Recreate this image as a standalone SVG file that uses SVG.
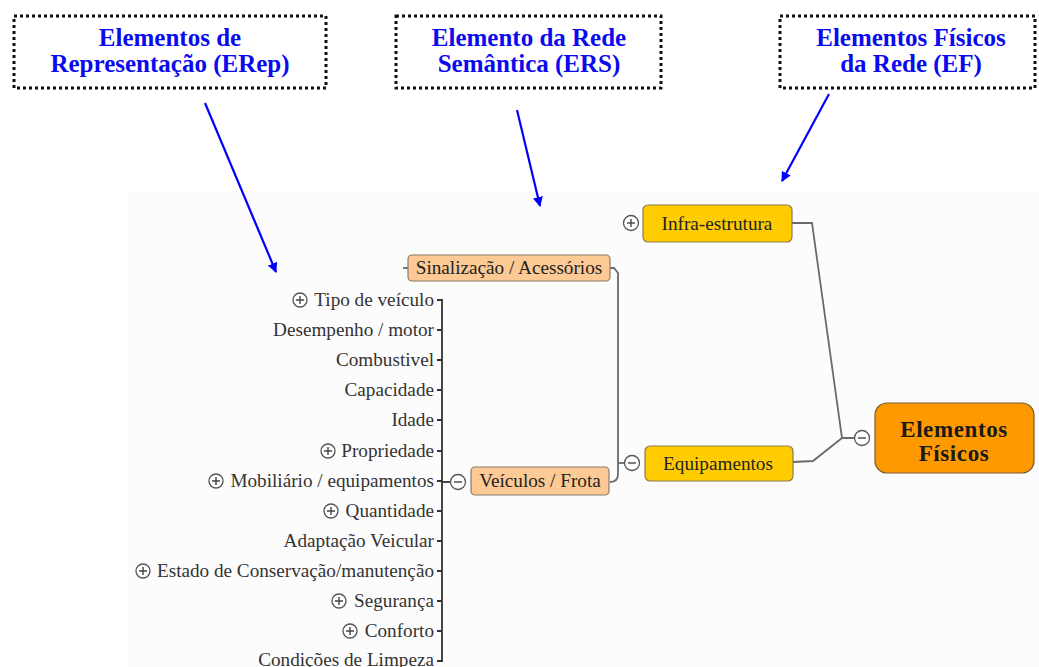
<svg xmlns="http://www.w3.org/2000/svg" width="1039" height="667" viewBox="0 0 1039 667">
<defs>
<marker id="ah" markerWidth="10" markerHeight="10" refX="9" refY="5" orient="auto" markerUnits="userSpaceOnUse" viewBox="0 0 10 10">
<path d="M0,0 L10,5 L0,10 z" fill="#0000ff"/>
</marker>
<style>
.dbox{fill:none;stroke:#111;stroke-width:3;stroke-dasharray:3 3}
.htxt{font-family:"Liberation Serif",serif;font-weight:bold;font-size:25px;fill:#0a0af0;text-anchor:middle}
.arrow{stroke:#0000ff;stroke-width:2.2;fill:none}
.lbl{font-family:"Liberation Serif",serif;font-size:19.2px;fill:#333;text-anchor:end}
.ntxt{font-family:"Liberation Serif",serif;font-size:19.2px;fill:#222;text-anchor:middle}
.peach{fill:#fdca96;stroke:#8a7a6a;stroke-width:1.2}
.yel{fill:#ffcc00;stroke:#8a7a50;stroke-width:1.2}
.org{fill:#ff9900;stroke:#7a5a30;stroke-width:1.2}
.conn{fill:none;stroke:#6a6a6a;stroke-width:1.8}
.br{fill:none;stroke:#333;stroke-width:1.8}
.tog{fill:#fff;stroke:#555;stroke-width:1.3}
.sym{stroke:#444;stroke-width:1.4}
</style>
</defs>
<rect x="0" y="0" width="1039" height="667" fill="#ffffff"/>
<rect x="128" y="192" width="911" height="475" fill="#fcfcfc"/>

<g id="label-erep">
<rect class="dbox" x="14" y="16" width="312" height="72"/>
<text class="htxt" x="170" y="46">Elementos de</text>
<text class="htxt" x="170" y="72">Representação (ERep)</text>
</g>
<g id="label-ers">
<rect class="dbox" x="396" y="16" width="265" height="72"/>
<text class="htxt" x="529" y="46">Elemento da Rede</text>
<text class="htxt" x="529" y="72">Semântica (ERS)</text>
</g>
<g id="label-ef">
<rect class="dbox" x="780" y="16" width="255" height="72"/>
<text class="htxt" x="911" y="46">Elementos Físicos</text>
<text class="htxt" x="911" y="72">da Rede (EF)</text>
</g>

<g id="arrows">
<line class="arrow" x1="205" y1="103" x2="276" y2="272" marker-end="url(#ah)"/>
<line class="arrow" x1="517" y1="110" x2="540" y2="206" marker-end="url(#ah)"/>
<line class="arrow" x1="829" y1="94" x2="782" y2="181" marker-end="url(#ah)"/>
</g>

<g id="connectors">
<path class="conn" d="M855,438 L842,438 L812,223 L792,223"/>
<path class="conn" d="M842,438 L813,461 L793,462"/>
<path class="conn" d="M610,268 L614,268 L618,273 L618,474 Q618,482 610,482"/>
<path class="conn" d="M618,463 L625,463"/>
<path class="conn" d="M403,268 L408,268"/>
<path class="br" d="M450,482 L442,482"/>
<path class="br" d="M437,300 L442,300 L442,661 L437,661"/>
<path class="br" d="M437,330 H442 M437,360 H442 M437,390 H442 M437,420 H442 M437,451 H442 M437,481 H442 M437,511 H442 M437,541 H442 M437,571 H442 M437,601 H442 M437,631 H442"/>
</g>

<g id="node-elementos-fisicos">
<rect class="org" x="875" y="403" width="159" height="70" rx="12"/>
<text x="954" y="437" style="font-family:'Liberation Serif',serif;font-weight:bold;font-size:23px;fill:#1a1a1a;text-anchor:middle;letter-spacing:0.6px">Elementos</text>
<text x="954" y="461" style="font-family:'Liberation Serif',serif;font-weight:bold;font-size:23px;fill:#1a1a1a;text-anchor:middle;letter-spacing:0.6px">Físicos</text>
<circle class="tog" cx="862" cy="438" r="7.5"/>
<line class="sym" x1="858" y1="438" x2="866" y2="438"/>
</g>

<g id="node-infra">
<rect class="yel" x="643" y="205" width="149" height="37" rx="5"/>
<text class="ntxt" x="717" y="230">Infra-estrutura</text>
<circle class="tog" cx="631" cy="223" r="7.5"/>
<line class="sym" x1="627" y1="223" x2="635" y2="223"/>
<line class="sym" x1="631" y1="219" x2="631" y2="227"/>
</g>

<g id="node-equipamentos">
<rect class="yel" x="645" y="446" width="148" height="35" rx="5"/>
<text class="ntxt" x="718" y="470">Equipamentos</text>
<circle class="tog" cx="632" cy="463" r="7.5"/>
<line class="sym" x1="628" y1="463" x2="636" y2="463"/>
</g>

<g id="node-sinalizacao">
<rect class="peach" x="408" y="255" width="202" height="26" rx="4"/>
<text class="ntxt" x="509" y="274">Sinalização / Acessórios</text>
</g>

<g id="node-veiculos">
<rect class="peach" x="471" y="467" width="138" height="28" rx="4"/>
<text class="ntxt" x="540" y="487">Veículos / Frota</text>
<circle class="tog" cx="458" cy="482" r="7.5"/>
<line class="sym" x1="454" y1="482" x2="462" y2="482"/>
</g>

<g id="list-items">
<g id="item-tipo"><circle class="tog" cx="300" cy="300" r="7"/><path class="sym" d="M296,300 H304 M300,296 V304"/><text class="lbl" x="434" y="306">Tipo de veículo</text></g>
<g id="item-desempenho"><text class="lbl" x="434" y="336">Desempenho / motor</text></g>
<g id="item-combustivel"><text class="lbl" x="434" y="366">Combustivel</text></g>
<g id="item-capacidade"><text class="lbl" x="434" y="396">Capacidade</text></g>
<g id="item-idade"><text class="lbl" x="434" y="426">Idade</text></g>
<g id="item-propriedade"><circle class="tog" cx="328" cy="451" r="7"/><path class="sym" d="M324,451 H332 M328,447 V455"/><text class="lbl" x="434" y="457">Propriedade</text></g>
<g id="item-mobiliario"><circle class="tog" cx="216" cy="481" r="7"/><path class="sym" d="M212,481 H220 M216,477 V485"/><text class="lbl" x="434" y="487">Mobiliário / equipamentos</text></g>
<g id="item-quantidade"><circle class="tog" cx="331" cy="511" r="7"/><path class="sym" d="M327,511 H335 M331,507 V515"/><text class="lbl" x="434" y="517">Quantidade</text></g>
<g id="item-adaptacao"><text class="lbl" x="434" y="547">Adaptação Veicular</text></g>
<g id="item-estado"><circle class="tog" cx="143" cy="571" r="7"/><path class="sym" d="M139,571 H147 M143,567 V575"/><text class="lbl" x="434" y="577">Estado de Conservação/manutenção</text></g>
<g id="item-seguranca"><circle class="tog" cx="339" cy="601" r="7"/><path class="sym" d="M335,601 H343 M339,597 V605"/><text class="lbl" x="434" y="607">Segurança</text></g>
<g id="item-conforto"><circle class="tog" cx="350" cy="631" r="7"/><path class="sym" d="M346,631 H354 M350,627 V635"/><text class="lbl" x="434" y="637">Conforto</text></g>
<g id="item-limpeza"><text class="lbl" x="434" y="666">Condições de Limpeza</text></g>
</g>
</svg>
